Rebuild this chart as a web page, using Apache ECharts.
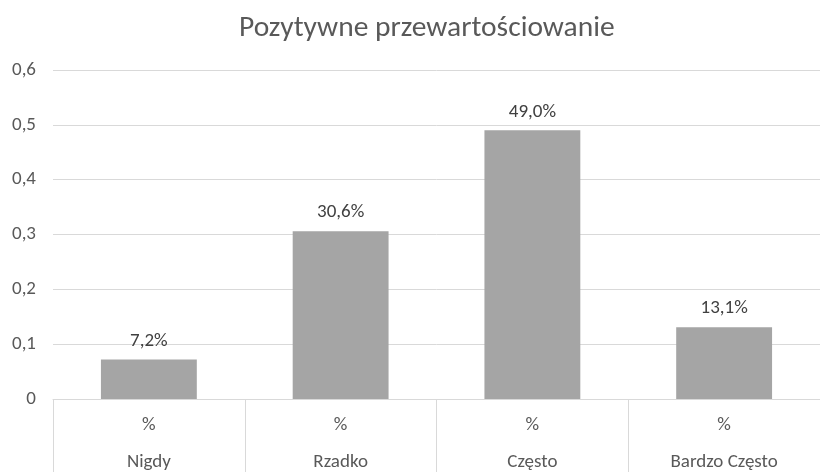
<!DOCTYPE html>
<html>
<head>
<meta charset="utf-8">
<script src="https://cdn.jsdelivr.net/npm/echarts@6/dist/echarts.min.js"></script>
<style>
  html, body { margin: 0; padding: 0; background: #fff; }
  #chart { width: 820px; height: 472px; }
</style>
</head>
<body>
<div id="chart"></div>
<script>
// Chart data
const titleText = 'Pozytywne przewartościowanie';
const categories = ['Nigdy', 'Rzadko', 'Często', 'Bardzo Często'];
const seriesName = '%';
const values = [0.072, 0.306, 0.490, 0.131];

const FONT = 'Carlito, Lato, "Liberation Sans", sans-serif';
const TEXT = '#595959';
const LINE = '#d9d9d9';

const fmtComma = v => String(v).replace('.', ',');

const chart = echarts.init(document.getElementById('chart'), null, { renderer: 'canvas' });
chart.setOption({
  animation: false,
  backgroundColor: '#ffffff',
  textStyle: { fontFamily: FONT },
  title: {
    text: titleText,
    left: 234,
    top: 9,
    textStyle: { fontFamily: FONT, fontSize: 29.5, fontWeight: 'normal', color: TEXT }
  },
  grid: { left: 53, top: 70, width: 773, height: 331, containLabel: false },
  xAxis: [
    {
      type: 'category',
      data: categories,
      position: 'bottom',
      axisLine: { show: true, lineStyle: { color: LINE, width: 1 } },
      axisTick: { show: true, length: 80, lineStyle: { color: LINE, width: 1 } },
      axisLabel: {
        margin: 17, fontFamily: FONT, fontSize: 19, color: TEXT,
        formatter: () => seriesName
      }
    },
    {
      type: 'category',
      data: categories,
      position: 'bottom',
      gridIndex: 0,
      axisLine: { show: false },
      axisTick: { show: false },
      axisLabel: { margin: 54, fontFamily: FONT, fontSize: 19, color: TEXT }
    }
  ],
  yAxis: {
    type: 'value',
    min: 0,
    max: 0.6,
    interval: 0.1,
    axisLine: { show: false },
    axisTick: { show: false },
    splitLine: { lineStyle: { color: LINE, width: 1 } },
    axisLabel: {
      margin: 17, fontFamily: FONT, fontSize: 19, color: TEXT,
      formatter: v => fmtComma(Math.round(v * 10) / 10)
    }
  },
  series: [{
    name: seriesName,
    type: 'bar',
    xAxisIndex: 0,
    data: values,
    barWidth: '50%',
    itemStyle: { color: '#a5a5a5' },
    label: {
      show: true,
      position: 'top',
      distance: 9,
      fontFamily: FONT,
      fontSize: 19,
      color: '#404040',
      formatter: p => (p.value * 100).toFixed(1).replace('.', ',') + '%'
    }
  }]
});
</script>
</body>
</html>
